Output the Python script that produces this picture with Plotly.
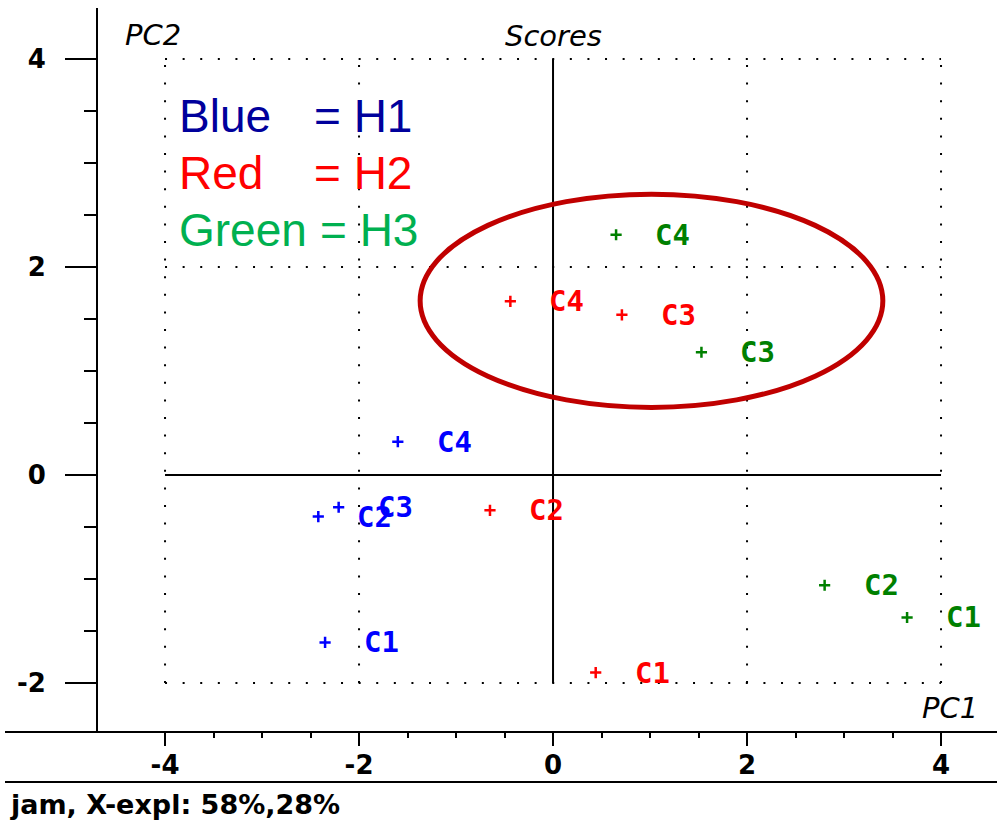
import plotly.graph_objects as go

# PCA score values (PC1, PC2) for samples C1..C4 in each group
samples = ["C1", "C2", "C3", "C4"]
h1_pc1 = [-2.35, -2.42, -2.21, -1.60]
h1_pc2 = [-1.61, -0.40, -0.31, 0.32]
h2_pc1 = [0.44, -0.65, 0.71, -0.44]
h2_pc2 = [-1.90, -0.34, 1.54, 1.67]
h3_pc1 = [3.65, 2.80, 1.53, 0.65]
h3_pc2 = [-1.37, -1.06, 1.18, 2.31]

groups = [
    ("H1", h1_pc1, h1_pc2, "#0000FF"),
    ("H2", h2_pc1, h2_pc2, "#FF0000"),
    ("H3", h3_pc1, h3_pc2, "#008000"),
]

legend_lines = [("Blue", "= H1", "#00009C"), ("Red", "= H2", "#FF0000"), ("Green", "= H3", "#00B050")]

x_major = [-4, -2, 0, 2, 4]
y_major = [-2, 0, 2, 4]
x_minor = [v / 2 for v in range(-7, 8) if v % 4 != 0]
y_minor = [v / 2 for v in range(-3, 8) if v % 4 != 0]

# highlighted cluster (ellipse bounds in score units)
ell_x = [-1.37, 3.40]
ell_y = [0.65, 2.70]

W, H = 997, 822
ML, MR, MT, MB = 98, 0, 8, 90
PW, PH = W - ML - MR, H - MT - MB


def px(x):
    return (x - ML) / PW


def py(y):
    return (H - MB - y) / PH


TICK_FONT = dict(family="DejaVu Sans", size=26, color="black", weight="bold")
LABEL_FONT = "DejaVu Sans Mono"

fig = go.Figure()

for name, xs, ys, col in groups:
    fig.add_trace(go.Scatter(
        x=xs, y=ys, mode="markers", name=name, showlegend=False,
        marker=dict(symbol="cross-thin", size=8, color=col,
                    line=dict(color=col, width=2.5)),
    ))

annotations = []
for name, xs, ys, col in groups:
    for s, xv, yv in zip(samples, xs, ys):
        annotations.append(dict(
            x=xv, y=yv, xref="x", yref="y", text=s, showarrow=False,
            xanchor="left", yanchor="middle", xshift=37,
            font=dict(family=LABEL_FONT, size=29, color=col, weight="bold"),
        ))

# colour key
for i, (word, eq, col) in enumerate(legend_lines):
    yc = 116 + 57 * i
    annotations.append(dict(x=px(177), y=py(yc), xref="paper", yref="paper",
                            text=word, showarrow=False, xanchor="left", yanchor="middle",
                            font=dict(family="Liberation Sans", size=46, color=col)))
    annotations.append(dict(x=px(312 if i < 2 else 318), y=py(yc), xref="paper", yref="paper",
                            text=eq, showarrow=False, xanchor="left", yanchor="middle",
                            font=dict(family="Liberation Sans", size=46, color=col)))

ital = dict(family="DejaVu Sans", size=29, color="black", style="italic")
annotations += [
    dict(x=px(153), y=py(35), xref="paper", yref="paper", text="PC2", showarrow=False,
         xanchor="center", yanchor="middle", font=ital),
    dict(x=0, y=py(36), xref="x", yref="paper", text="Scores", showarrow=False,
         xanchor="center", yanchor="middle", font=ital),
    dict(x=px(950), y=py(708), xref="paper", yref="paper", text="PC1", showarrow=False,
         xanchor="center", yanchor="middle", font=ital),
    dict(x=px(8), y=py(804), xref="paper", yref="paper", text="jam, X-expl: 58%,28%",
         showarrow=False, xanchor="left", yanchor="middle",
         font=dict(family="DejaVu Sans", size=27, color="black", weight="bold")),
]

dots = dict(color="black", width=2, dash="2px,15.6px")
solid = dict(color="black", width=2)
shapes = []
for xv in [-4, -2, 2, 4]:
    shapes.append(dict(type="line", xref="x", yref="y", x0=xv, x1=xv, y0=-2, y1=4, line=dots, layer="below"))
for yv in [-2, 2, 4]:
    shapes.append(dict(type="line", xref="x", yref="y", x0=-4, x1=4, y0=yv, y1=yv, line=dots, layer="below"))
shapes += [
    dict(type="line", xref="x", yref="y", x0=0, x1=0, y0=-2, y1=4, line=solid, layer="below"),
    dict(type="line", xref="x", yref="y", x0=-4, x1=4, y0=0, y1=0, line=solid, layer="below"),
    # bottom frame lines
    dict(type="line", xref="paper", yref="paper", x0=px(5), x1=1, y0=0, y1=0, line=solid),
    dict(type="line", xref="paper", yref="paper", x0=px(5), x1=1, y0=py(782), y1=py(782), line=solid),
    dict(type="circle", xref="x", yref="y", x0=ell_x[0], x1=ell_x[1], y0=ell_y[0], y1=ell_y[1],
         line=dict(color="#C00000", width=5)),
]

fig.update_layout(
    width=W, height=H, autosize=False,
    margin=dict(l=ML, r=MR, t=MT, b=MB, pad=0),
    paper_bgcolor="white", plot_bgcolor="white",
    showlegend=False,
    annotations=annotations, shapes=shapes,
    xaxis=dict(
        range=[-4.691, 4.577], showgrid=False, zeroline=False, showline=False,
        tickmode="array", tickvals=x_major, ticktext=[str(v) for v in x_major],
        ticks="outside", ticklen=13, tickwidth=2, tickcolor="black",
        tickfont=TICK_FONT, ticklabelstandoff=-3,
        minor=dict(tickmode="array", tickvals=x_minor, ticks="outside", ticklen=5,
                   tickwidth=2, tickcolor="black", showgrid=False),
    ),
    yaxis=dict(
        range=[-2.471, 4.490], showgrid=False, zeroline=False,
        showline=True, linewidth=2, linecolor="black",
        tickmode="array", tickvals=y_major, ticktext=[str(v) for v in y_major],
        ticks="outside", ticklen=31, tickwidth=2, tickcolor="black",
        tickfont=TICK_FONT, ticklabelstandoff=14,
        minor=dict(tickmode="array", tickvals=y_minor, ticks="outside", ticklen=12,
                   tickwidth=2, tickcolor="black", showgrid=False),
    ),
)

fig.write_html("out.html")
